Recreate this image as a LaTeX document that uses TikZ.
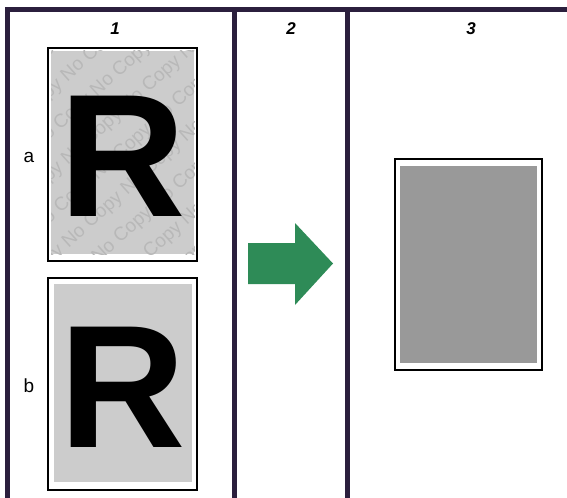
\documentclass[tikz,border=0pt]{standalone}
\usepackage{fontspec}
\setmainfont{Liberation Sans}
\definecolor{framecol}{RGB}{43,31,61}
\definecolor{arrowgreen}{RGB}{46,139,87}
\definecolor{paperlight}{HTML}{CCCCCC}
\definecolor{paperdark}{HTML}{999999}
\definecolor{wmark}{HTML}{B8B8B8}
\tikzset{
  framel/.style={draw=framecol,line width=5bp,line join=miter},
  header/.style={font=\fontsize{17bp}{20bp}\selectfont\bfseries\itshape,inner sep=0pt},
  rowlabel/.style={font=\fontsize{19bp}{22bp}\selectfont,inner sep=0pt},
  sheet/.style={draw=black,line width=2bp,fill=white},
  bigR/.style={font=\fontsize{175bp}{175bp}\selectfont\bfseries,inner sep=0pt,anchor=base},
  wm/.style={font=\fontsize{19bp}{22bp}\selectfont,text=wmark,inner sep=0pt,rotate=42}
}
\begin{document}
\begin{tikzpicture}[x=1bp,y=-1bp]
\useasboundingbox (0,0) rectangle (567,498);
% frame
\draw[framel] (7.5,498) -- (7.5,10) -- (567,10);
\draw[framel] (234,10) -- (234,498);
\draw[framel] (347.5,10) -- (347.5,498);
% headers
\node[header] (h1) at (115,29) {1};
\node[header] (h2) at (291,29) {2};
\node[header] (h3) at (471,29) {3};
% row labels
\node[rowlabel] (la) at (29,157) {a};
\node[rowlabel] (lb) at (29,386) {b};
% sheet a
\draw[sheet] (48,48) rectangle (197,261);
\fill[paperlight] (51,51) rectangle (194,254);
\begin{scope}
\clip (51,51) rectangle (194,254);
\foreach \k in {-5,...,5}{
  \node[wm] at ({122+\k*31*0.669+\k*9},{152+\k*31*0.743-\k*8}) {No Copy No Copy No Copy No Copy No Copy};
}
\end{scope}
\node[bigR] (Ra) at (123,217) {R};
% sheet b
\draw[sheet] (48,278) rectangle (197,490);
\fill[paperlight] (54,284) rectangle (192,482);
\node[bigR] (Rb) at (123,447) {R};
% arrow
\fill[arrowgreen] (248,243) -- (295,243) -- (295,223) -- (333,263.5) -- (295,305) -- (295,284) -- (248,284) -- cycle;
% sheet 3
\draw[sheet,line width=2.5bp] (395,159) rectangle (542,370);
\fill[paperdark] (400,166) rectangle (537,363);
\end{tikzpicture}
\end{document}
